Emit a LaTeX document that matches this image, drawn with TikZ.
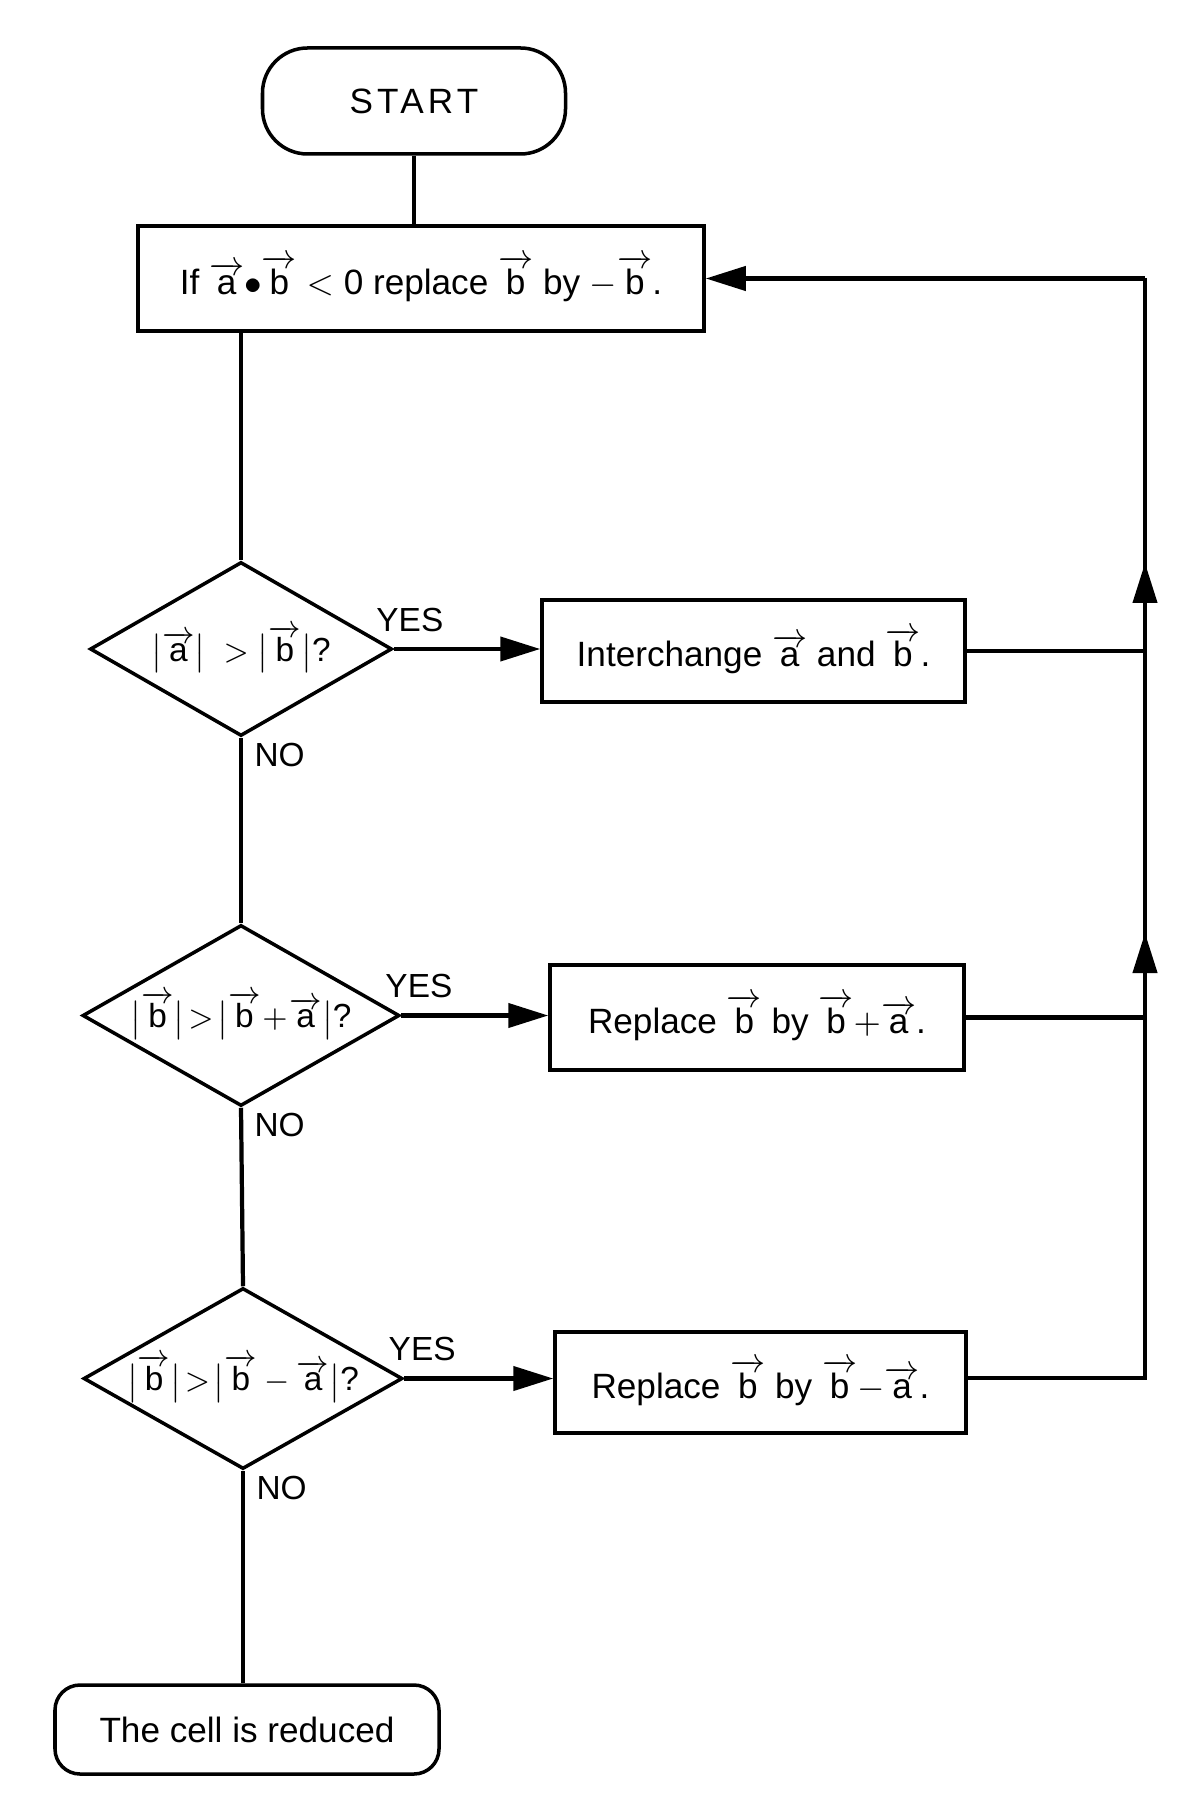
\documentclass[tikz,border=0pt]{standalone}
\usepackage{fontspec}
\setmainfont{Liberation Sans}
\usepackage{amsmath}
\usepackage{tikz}
\usetikzlibrary{arrows.meta,positioning,calc}
\usetikzlibrary{shapes.geometric}
\newcommand{\vecl}[1]{\ensuremath{\overrightarrow{\mbox{#1}}}}
\newcommand{\qtext}[1]{\makebox[0pt]{#1}}
\tikzset{
  >={Triangle[length=0.4cm,width=0.24cm]},
  flow/.style={line width=1.2pt},
  procbox/.style={draw,line width=1pt,rectangle,inner sep=0pt,font=\fontsize{10}{12}\selectfont},
  termbox/.style={procbox,rounded corners=#1},
  decbox/.style={draw,line width=1pt,diamond,aspect=1.75,inner sep=0pt,font=\fontsize{9.5}{11}\selectfont},
  lbl/.style={inner sep=1pt,font=\fontsize{9.5}{11}\selectfont}
}
\begin{document}
\begin{tikzpicture}
\useasboundingbox (0,0) rectangle (11.82,-18.14);
\node[termbox=0.45cm,minimum width=3.03cm,minimum height=1.06cm] (start) at (4.14,-1.01)
  {\addfontfeature{LetterSpace=12}START};
\node[procbox,minimum width=5.66cm,minimum height=1.05cm] (test) at (4.21,-2.785)
  {If \vecl{a}$\bullet$\vecl{b} $<$ 0 replace \vecl{b} by $-$\vecl{b}.};
\node[decbox,minimum width=3.02cm,minimum height=1.74cm] (d1) at (2.41,-6.49)
  {\qtext{$\bigl|\vecl{a}\bigr| \;>\bigl|\vecl{b}\bigr|$?}};
\node[procbox,minimum width=4.23cm,minimum height=1.02cm] (swap) at (7.535,-6.51)
  {Interchange \vecl{a} and \vecl{b}.};
\node[decbox,minimum width=3.17cm,minimum height=1.81cm] (d2) at (2.41,-10.155)
  {\qtext{$\bigl|\vecl{b}\bigr|\!>\!\bigl|\vecl{b}\!+\!\vecl{a}\bigr|$?}};
\node[procbox,minimum width=4.14cm,minimum height=1.05cm] (rep1) at (7.57,-10.175)
  {Replace \vecl{b} by \vecl{b}$+$\vecl{a}.};
\node[decbox,minimum width=3.19cm,minimum height=1.81cm] (d3) at (2.43,-13.785)
  {\qtext{$\bigl|\vecl{b}\bigr|\!>\!\bigl|\vecl{b} - \vecl{a}\bigr|$?}};
\node[procbox,minimum width=4.11cm,minimum height=1.01cm] (rep2) at (7.605,-13.825)
  {Replace \vecl{b} by \vecl{b}$-$\vecl{a}.};
\node[termbox=0.25cm,minimum width=3.84cm,minimum height=0.89cm] (done) at (2.47,-17.295)
  {The cell is reduced};
% return line on the right
\coordinate (jtop) at (11.45,-2.785);
\coordinate (j1) at (11.45,-6.51);
\coordinate (j2) at (11.45,-10.175);
\coordinate (j3) at (11.45,-13.78);
\coordinate (up1) at (11.45,-5.63);
\coordinate (up2) at (11.45,-9.33);
\draw[flow] (start) -- (start |- test.north);
\draw[flow] (d1.north |- test.south) -- (d1.north);
\draw[->][flow] (d1.east) -- node[lbl,above=0.12cm,pos=0.11] {YES} (d1.east -| swap.west);
\draw[->][flow] (d2.east) -- node[lbl,above=0.12cm,pos=0.12] {YES} (d2.east -| rep1.west);
\draw[->][flow] (d3.east) -- node[lbl,above=0.12cm,pos=0.12] {YES} (d3.east -| rep2.west);
\draw[flow] (d1.south) -- node[lbl,pos=0,anchor=north west,xshift=0.08cm] {NO} (d2.north);
\draw[flow] (d2.south) -- node[lbl,pos=0,anchor=north west,xshift=0.08cm] {NO} (d3.north);
\draw[flow] (d3.south) -- node[lbl,pos=0,anchor=north west,xshift=0.08cm] {NO} (d3.south |- done.north);
\draw[flow] (swap.east) -- (j1);
\draw[flow] (rep1.east) -- (j2);
\draw[flow] (rep2.east |- j3) -- (j3) -- (jtop);
\draw[->][flow] (jtop) -- (test.east);
\draw[->][flow] (j1) -- (up1);
\draw[->][flow] (j2) -- (up2);
\end{tikzpicture}
\end{document}
